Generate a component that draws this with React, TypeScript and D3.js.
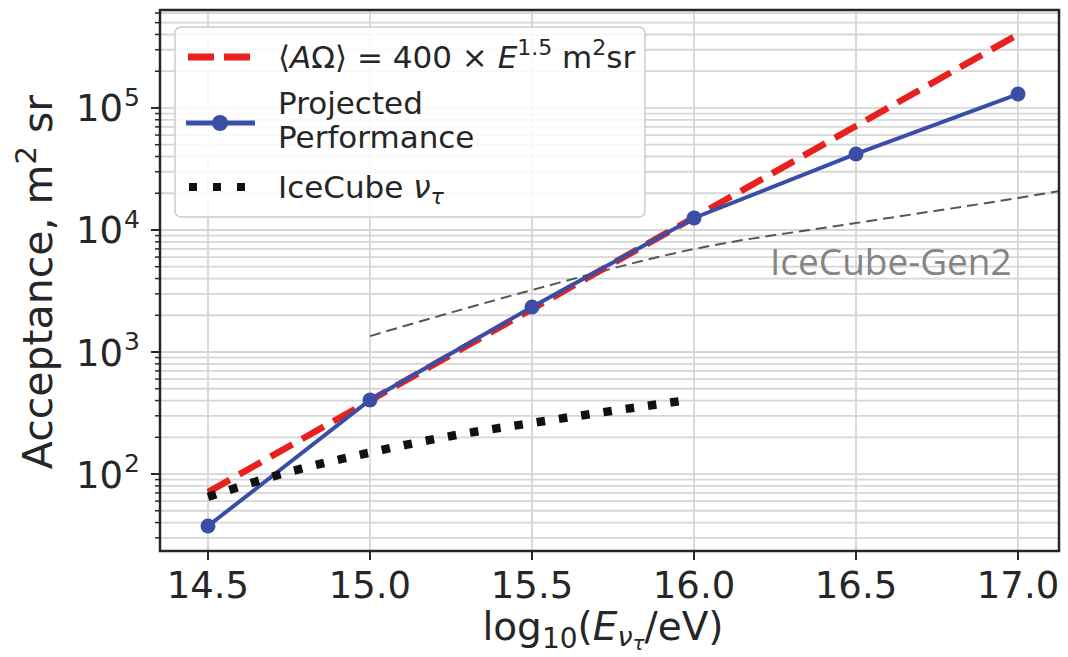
import React from "react";
import * as d3 from "d3";

const energyPoints = [14.5, 15.0, 15.5, 16.0, 16.5, 17.0];
const powerLawValues = [71.1, 400, 2249, 12649, 71131, 400000];
const projectedValues = [37.5, 404, 2340, 12540, 42000, 130000];

const iceCubeX = [14.5, 14.75, 15.0, 15.25, 15.5, 15.75, 15.97];
const iceCubeValues = [65, 104, 150, 205, 262, 330, 400];

const gen2X = [15.0, 15.5, 16.0, 16.5, 17.0, 17.13];
const gen2Values = [1350, 3220, 6980, 11400, 18300, 20900];

const xTicks = [14.5, 15.0, 15.5, 16.0, 16.5, 17.0];
const yMajorExps = [2, 3, 4, 5];

const W = 1068;
const H = 657;
const L = 160, R = 1059, T = 10, B = 551;
const TEXT = "#262626";
const FONT = "DejaVu Sans";

export default function App() {
  const x = d3.scaleLinear().domain([14.3519, 17.1265]).range([L, R]);
  const y = d3.scaleLog().domain([23.4, 6.35e5]).range([B, T]);

  const minor: number[] = [];
  for (let e = 1; e <= 5; e++) {
    for (let k = 2; k <= 9; k++) {
      const v = k * Math.pow(10, e);
      if (v > 23.4 && v < 6.35e5) minor.push(v);
    }
  }
  const major = yMajorExps.map((e) => Math.pow(10, e));

  const line = d3
    .line<[number, number]>()
    .x((d) => x(d[0]))
    .y((d) => y(d[1]));
  const smooth = d3
    .line<[number, number]>()
    .x((d) => x(d[0]))
    .y((d) => y(d[1]))
    .curve(d3.curveMonotoneX);

  const redPts = energyPoints.map((e, i) => [e, powerLawValues[i]] as [number, number]);
  const bluePts = energyPoints.map((e, i) => [e, projectedValues[i]] as [number, number]);
  const icePts = iceCubeX.map((e, i) => [e, iceCubeValues[i]] as [number, number]);
  const genPts = gen2X.map((e, i) => [e, gen2Values[i]] as [number, number]);

  const RED = "#e8201e";
  const BLUE = "#3b4ea6";

  return (
    <svg
      width={W}
      height={H}
      style={{ position: "absolute", left: 0, top: 0, background: "#fff" }}
      fontFamily={FONT}
    >
      <defs>
        <clipPath id="plotclip">
          <rect x={L} y={T} width={R - L} height={B - T} />
        </clipPath>
      </defs>
      <rect x={0} y={0} width={W} height={H} fill="#fff" />
      {/* grid */}
      <g stroke="#d6d6d6" strokeWidth={1.8}>
        {minor.map((v) => (
          <line key={"mn" + v} x1={L} x2={R} y1={y(v)} y2={y(v)} />
        ))}
        {major.map((v) => (
          <line key={"mj" + v} x1={L} x2={R} y1={y(v)} y2={y(v)} />
        ))}
        {xTicks.map((t) => (
          <line key={"vx" + t} x1={x(t)} x2={x(t)} y1={T} y2={B} />
        ))}
      </g>

      <g clipPath="url(#plotclip)">
        {/* IceCube-Gen2 */}
        <path
          d={smooth(genPts) || ""}
          fill="none"
          stroke="#555"
          strokeWidth={2}
          strokeDasharray="11,6"
        />
        {/* power law */}
        <path
          d={line(redPts) || ""}
          fill="none"
          stroke={RED}
          strokeWidth={6.5}
          strokeDasharray="25,11"
        />
        {/* projected */}
        <path d={line(bluePts) || ""} fill="none" stroke={BLUE} strokeWidth={4} />
        {bluePts.map((p, i) => (
          <circle key={"c" + i} cx={x(p[0])} cy={y(p[1])} r={7.5} fill={BLUE} />
        ))}
        {/* IceCube nu tau */}
        <path
          d={smooth(icePts) || ""}
          fill="none"
          stroke="#111"
          strokeWidth={8.5}
          strokeDasharray="8.5,14"
        />
      </g>

      <text x={770} y={275} fontFamily="Open Sans" fontSize={37} fill="#848484">
        IceCube-Gen2
      </text>

      {/* frame */}
      <rect x={L} y={T} width={R - L} height={B - T} fill="none" stroke={TEXT} strokeWidth={2.5} />

      {/* ticks */}
      <g stroke={TEXT}>
        {minor.map((v) => (
          <line key={"tmn" + v} x1={L - 5} x2={L} y1={y(v)} y2={y(v)} strokeWidth={1.5} />
        ))}
        {major.map((v) => (
          <line key={"tmj" + v} x1={L - 9} x2={L} y1={y(v)} y2={y(v)} strokeWidth={2} />
        ))}
        {xTicks.map((t) => (
          <line key={"tx" + t} x1={x(t)} x2={x(t)} y1={B} y2={B + 9} strokeWidth={2} />
        ))}
      </g>
      {yMajorExps.map((e) => {
        const yy = y(Math.pow(10, e));
        return (
          <g key={"yl" + e} fill={TEXT}>
            <text x={123} y={yy + 13.5} fontSize={37} textAnchor="end">
              10
            </text>
            <text x={124} y={yy - 2} fontSize={25}>
              {e}
            </text>
          </g>
        );
      })}
      {xTicks.map((t) => (
        <text key={"xl" + t} x={x(t)} y={598} fontSize={37} textAnchor="middle" fill={TEXT}>
          {t.toFixed(1)}
        </text>
      ))}

      {/* axis labels */}
      <text x={603} y={640} fontSize={39} textAnchor="middle" fill={TEXT}>
        log
        <tspan fontSize={28} dy={8}>10</tspan>
        <tspan dy={-8}>(</tspan>
        <tspan fontStyle="italic">E</tspan>
        <tspan fontSize={27} fontStyle="italic" dy={6}>ν</tspan>
        <tspan fontSize={20} fontStyle="italic" dy={4}>τ</tspan>
        <tspan dy={-10}>/eV)</tspan>
      </text>
      <text
        transform={`translate(52,282) rotate(-90)`}
        fontSize={41}
        textAnchor="middle"
        fill={TEXT}
      >
        Acceptance, m
        <tspan fontSize={29} dy={-16}>2</tspan>
        <tspan dy={16}> sr</tspan>
      </text>

      {/* legend */}
      <rect
        x={175}
        y={27}
        width={470}
        height={190}
        rx={6}
        fill="#fff"
        fillOpacity={0.85}
        stroke="#cccccc"
        strokeWidth={1.5}
      />
      <line x1={188} x2={250} y1={57} y2={57} stroke={RED} strokeWidth={7} strokeDasharray="26,10" />
      <line x1={186} x2={255} y1={123} y2={123} stroke={BLUE} strokeWidth={5} />
      <circle cx={220} cy={123} r={8} fill={BLUE} />
      <line x1={189} x2={250} y1={187} y2={187} stroke="#111" strokeWidth={8} strokeDasharray="8,16" />
      <g fill={TEXT} fontSize={31}>
        <text x={278} y={68}>
          ⟨<tspan fontStyle="italic">A</tspan>Ω⟩ = 400 × <tspan fontStyle="italic">E</tspan>
          <tspan fontSize={22} dy={-13}>1.5</tspan>
          <tspan dy={13}>  m</tspan>
          <tspan fontSize={22} dy={-13}>2</tspan>
          <tspan dy={13}>sr</tspan>
        </text>
        <text x={278} y={114}>Projected</text>
        <text x={278} y={148}>Performance</text>
        <text x={278} y={198}>
          IceCube <tspan fontStyle="italic">ν</tspan>
          <tspan fontSize={22} fontStyle="italic" dy={6}>τ</tspan>
        </text>
      </g>
    </svg>
  );
}
